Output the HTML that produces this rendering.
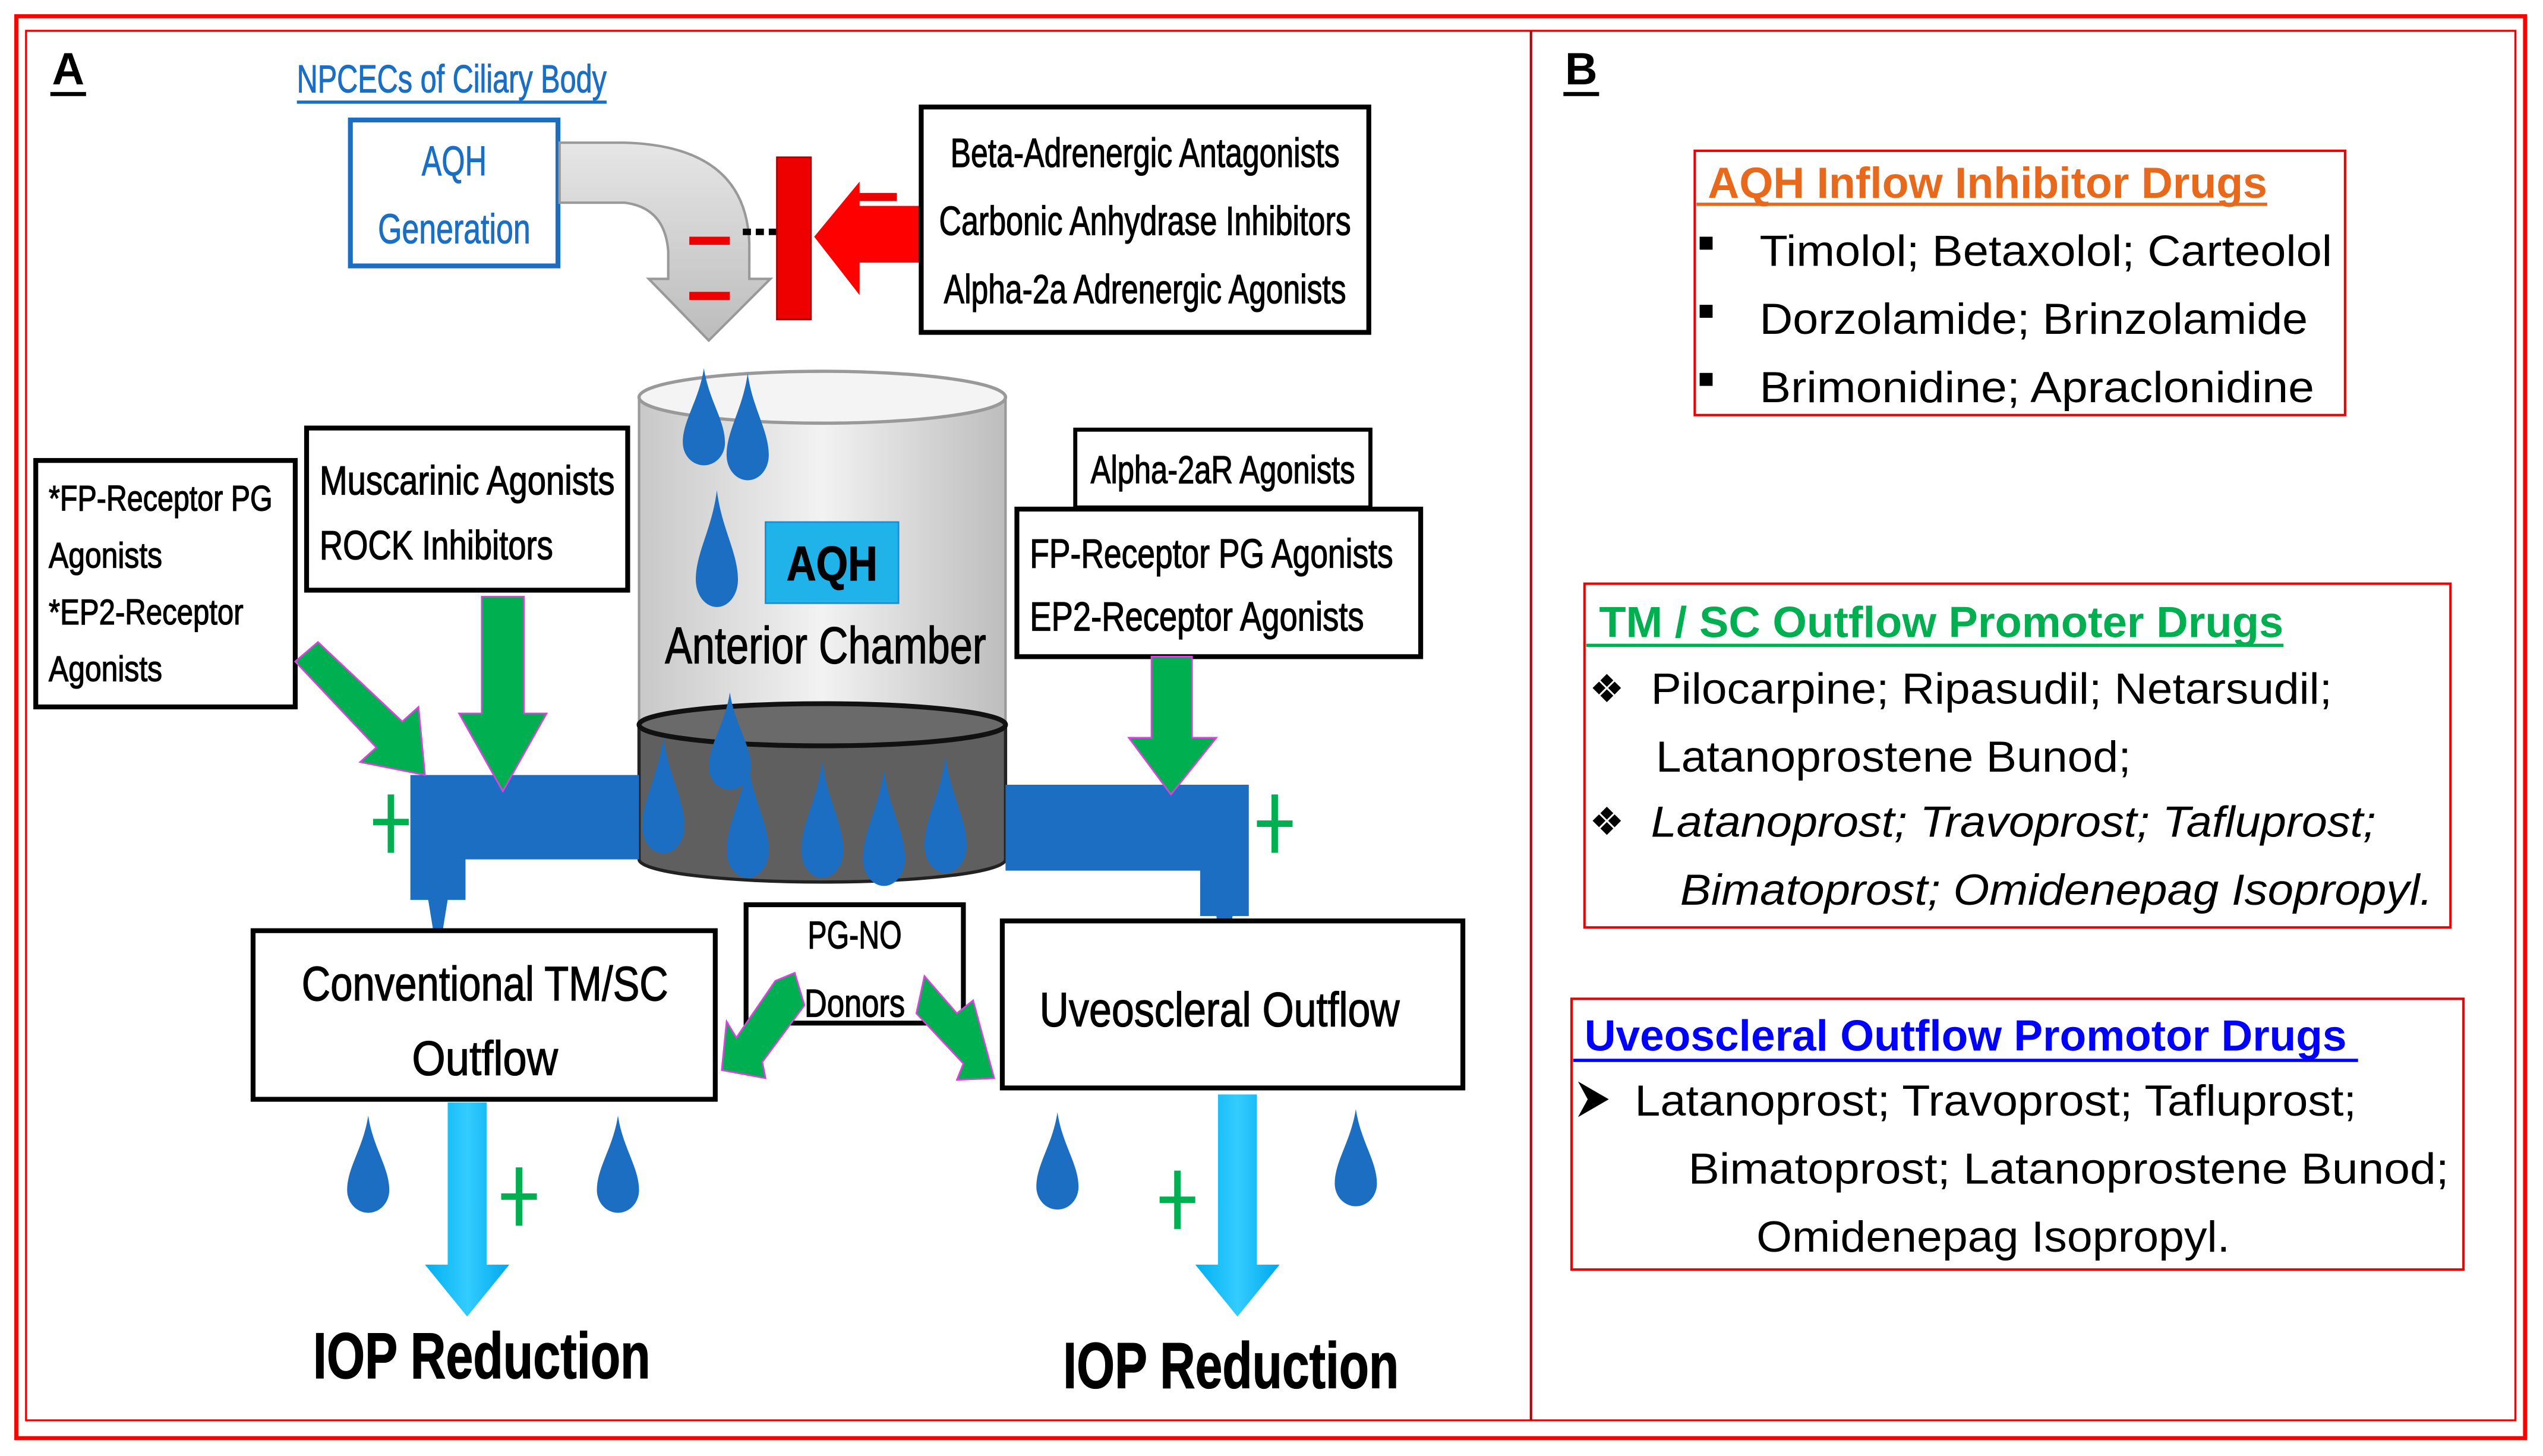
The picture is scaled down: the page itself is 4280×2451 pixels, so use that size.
<!DOCTYPE html>
<html><head><meta charset="utf-8"><style>html,body{margin:0;padding:0;background:#fff}svg{display:block}
.n{font-family:"Liberation Sans Narrow","Liberation Sans",sans-serif;stroke:#000;stroke-width:0.5}
.s{font-family:"Liberation Sans",sans-serif}</style></head><body>
<svg width="4280" height="2451" viewBox="0 0 1568 898" xmlns="http://www.w3.org/2000/svg">
<defs>
<path id="d" d="M0,-38 C3,-18 13,-6 13,8 A13,14 0 0 1 -13,8 C-13,-6 -3,-18 0,-38Z" fill="#1b6ec2"/>
<linearGradient id="cyl" x1="0" x2="1"><stop offset="0" stop-color="#c8c8c8"/><stop offset=".5" stop-color="#f2f2f2"/><stop offset="1" stop-color="#bdbdbd"/></linearGradient>
<linearGradient id="cy2" x1="0" x2="1"><stop offset="0" stop-color="#00b0f0"/><stop offset=".5" stop-color="#33ccff"/><stop offset="1" stop-color="#00a8ec"/></linearGradient>
<linearGradient id="gr" x1="0" y1="0" x2="0" y2="1"><stop offset="0" stop-color="#e6e6e6"/><stop offset="1" stop-color="#bcbcbc"/></linearGradient>
</defs>
<rect width="1568" height="898" fill="#fff"/>
<rect x="10" y="10" width="1547" height="877" fill="none" stroke="#f00" stroke-width="2.5"/>
<rect x="16" y="19" width="1535" height="857" fill="none" stroke="#e00" stroke-width="1.2"/>
<line x1="944" y1="19" x2="944" y2="876" stroke="#b00" stroke-width="1.5"/>

<text x="32" y="52" class="s" font-size="28" font-weight="bold" textLength="20" lengthAdjust="spacingAndGlyphs">A</text>
<line x1="31" y1="58" x2="53" y2="58" stroke="#000" stroke-width="2.5"/>
<text x="183" y="57" class="n" font-size="24" fill="#1a6fc4" style="stroke:#1a6fc4;stroke-width:0.4" textLength="191" lengthAdjust="spacingAndGlyphs">NPCECs of Ciliary Body</text>
<line x1="183" y1="63" x2="374" y2="63" stroke="#1a6fc4" stroke-width="2"/>
<rect x="216" y="74" width="128" height="90" fill="#fff" stroke="#1a6fc4" stroke-width="3"/>
<text x="280" y="108" class="n" font-size="26" fill="#1a6fc4" style="stroke:#1a6fc4;stroke-width:0.4" text-anchor="middle" textLength="40" lengthAdjust="spacingAndGlyphs">AQH</text>
<text x="280" y="150" class="n" font-size="26" fill="#1a6fc4" style="stroke:#1a6fc4;stroke-width:0.4" text-anchor="middle" textLength="94" lengthAdjust="spacingAndGlyphs">Generation</text>
<path d="M345,88 L385,88 Q460,90 462,150 L462,172 L475,172 L437,210 L400,172 L412,172 L412,155 Q410,128 385,125 L345,125 Z" fill="url(#gr)" stroke="#999" stroke-width="1.5"/>
<rect x="425" y="146" width="25" height="5" fill="#e00"/>
<rect x="425" y="180" width="25" height="5" fill="#e00"/>
<rect x="528" y="119" width="25" height="5" fill="#e00"/>
<line x1="458" y1="143" x2="480" y2="143" stroke="#000" stroke-width="4" stroke-dasharray="5,3"/>
<rect x="479" y="97" width="21" height="100" fill="#e00" stroke="#a00" stroke-width="1"/>
<path d="M567,127 L530,127 L530,112 L502,146 L530,182 L530,162 L567,162 Z" fill="#f00"/>
<rect x="568" y="66" width="276" height="139" fill="#fff" stroke="#000" stroke-width="3"/>
<text x="706" y="103" class="n" font-size="25" text-anchor="middle" textLength="240" lengthAdjust="spacingAndGlyphs">Beta-Adrenergic Antagonists</text>
<text x="706" y="145" class="n" font-size="25" text-anchor="middle" textLength="254" lengthAdjust="spacingAndGlyphs">Carbonic Anhydrase Inhibitors</text>
<text x="706" y="187" class="n" font-size="25" text-anchor="middle" textLength="248" lengthAdjust="spacingAndGlyphs">Alpha-2a Adrenergic Agonists</text>

<path d="M394,245 L394,450 L620,450 L620,245 Z" fill="url(#cyl)" stroke="#999" stroke-width="1.5"/>
<ellipse cx="507" cy="245" rx="113" ry="16" fill="#f4f4f4" stroke="#999" stroke-width="2"/>
<path d="M394,447 L394,530 A113,14 0 0 0 620,530 L620,447 Z" fill="#5f5f5f" stroke="#222" stroke-width="2"/>
<ellipse cx="507" cy="447" rx="113" ry="13" fill="#6a6a6a" stroke="#111" stroke-width="3"/>
<use href="#d" transform="translate(434,265)"/>
<use href="#d" transform="translate(461,272) scale(1,1.1)"/>
<use href="#d" transform="translate(442,348) scale(1,1.2)"/>
<use href="#d" transform="translate(450,465)"/>
<use href="#d" transform="translate(409,500) scale(1,1.2)"/>
<use href="#d" transform="translate(461,515) scale(1,1.2)"/>
<use href="#d" transform="translate(507,515) scale(1,1.2)"/>
<use href="#d" transform="translate(545,520) scale(1,1.2)"/>
<use href="#d" transform="translate(583,512) scale(1,1.2)"/>
<rect x="472" y="322" width="82" height="50" fill="#1fb3ea" stroke="#1a8ed0" stroke-width="1"/>
<text x="513" y="358" class="n" font-size="30" font-weight="bold" text-anchor="middle" textLength="56" lengthAdjust="spacingAndGlyphs">AQH</text>
<text x="509" y="409" class="n" font-size="32" text-anchor="middle" textLength="198" lengthAdjust="spacingAndGlyphs">Anterior Chamber</text>

<rect x="22" y="284" width="160" height="152" fill="#fff" stroke="#000" stroke-width="3"/>
<text x="30" y="315" class="n" font-size="22" textLength="138" lengthAdjust="spacingAndGlyphs">*FP-Receptor PG</text>
<text x="30" y="350" class="n" font-size="22" textLength="70" lengthAdjust="spacingAndGlyphs">Agonists</text>
<text x="30" y="385" class="n" font-size="22" textLength="120" lengthAdjust="spacingAndGlyphs">*EP2-Receptor</text>
<text x="30" y="420" class="n" font-size="22" textLength="70" lengthAdjust="spacingAndGlyphs">Agonists</text>
<rect x="189" y="264" width="198" height="100" fill="#fff" stroke="#000" stroke-width="3"/>
<text x="197" y="305" class="n" font-size="25" textLength="182" lengthAdjust="spacingAndGlyphs">Muscarinic Agonists</text>
<text x="197" y="345" class="n" font-size="25" textLength="144" lengthAdjust="spacingAndGlyphs">ROCK Inhibitors</text>
<rect x="663" y="265" width="182" height="48" fill="#fff" stroke="#000" stroke-width="2.5"/>
<text x="754" y="298" class="n" font-size="24" text-anchor="middle" textLength="163" lengthAdjust="spacingAndGlyphs">Alpha-2aR Agonists</text>
<rect x="627" y="314" width="249" height="91" fill="#fff" stroke="#000" stroke-width="3"/>
<text x="635" y="350" class="n" font-size="25" textLength="224" lengthAdjust="spacingAndGlyphs">FP-Receptor PG Agonists</text>
<text x="635" y="389" class="n" font-size="25" textLength="206" lengthAdjust="spacingAndGlyphs">EP2-Receptor Agonists</text>

<path d="M253,478 L394,478 L394,530 L287,530 L287,555 L276,555 L270,592 L264,555 L253,555 Z" fill="#1b6ec2"/>
<path d="M620,484 L770,484 L770,565 L760,565 L755,600 L750,565 L740,565 L740,537 L620,537 Z" fill="#1b6ec2"/>
<path d="M297,368 L323,368 L323,440 L337,440 L310,488 L283,440 L297,440 Z" fill="#00b050" stroke="#e040e0" stroke-width="1"/>
<path d="M710,405 L735,405 L735,455 L750,455 L722,490 L696,455 L710,455 Z" fill="#00b050" stroke="#e040e0" stroke-width="1"/>
<path d="M182,408 L196,396 L248,445 L258,436 L262,478 L222,470 L232,461 Z" fill="#00b050" stroke="#e040e0" stroke-width="1"/>
<g stroke="#00b050" stroke-width="4">
<line x1="241" y1="490" x2="241" y2="526"/><line x1="230" y1="507" x2="252" y2="507"/>
<line x1="786" y1="490" x2="786" y2="526"/><line x1="775" y1="508" x2="797" y2="508"/>
<line x1="320" y1="720" x2="320" y2="756"/><line x1="309" y1="738" x2="331" y2="738"/>
<line x1="726" y1="722" x2="726" y2="758"/><line x1="715" y1="740" x2="737" y2="740"/>
</g>
<rect x="156" y="574" width="285" height="104" fill="#fff" stroke="#000" stroke-width="3"/>
<text x="299" y="617" class="n" font-size="30" text-anchor="middle" textLength="226" lengthAdjust="spacingAndGlyphs">Conventional TM/SC</text>
<text x="299" y="663" class="n" font-size="30" text-anchor="middle" textLength="90" lengthAdjust="spacingAndGlyphs">Outflow</text>
<rect x="460" y="558" width="134" height="73" fill="#fff" stroke="#000" stroke-width="3"/>
<text x="527" y="585" class="n" font-size="24" text-anchor="middle" textLength="58" lengthAdjust="spacingAndGlyphs">PG-NO</text>
<text x="527" y="627" class="n" font-size="24" text-anchor="middle" textLength="62" lengthAdjust="spacingAndGlyphs">Donors</text>
<rect x="618" y="568" width="284" height="103" fill="#fff" stroke="#000" stroke-width="3"/>
<text x="752" y="633" class="n" font-size="30" text-anchor="middle" textLength="222" lengthAdjust="spacingAndGlyphs">Uveoscleral Outflow</text>
<path d="M490,600 L496,620 L470,655 L472,665 L445,660 L448,630 L454,640 L478,605 Z" fill="#00b050" stroke="#e040e0" stroke-width="1"/>
<path d="M570,602 L590,625 L600,617 L613,665 L590,666 L594,656 L565,625 Z" fill="#00b050" stroke="#e040e0" stroke-width="1"/>
<use href="#d" transform="translate(227,726)"/>
<use href="#d" transform="translate(381,726)"/>
<use href="#d" transform="translate(652,724)"/>
<use href="#d" transform="translate(836,722)"/>
<path d="M276,680 L300,680 L300,780 L314,780 L288,812 L262,780 L276,780 Z" fill="url(#cy2)"/>
<path d="M751,675 L775,675 L775,780 L789,780 L763,812 L737,780 L751,780 Z" fill="url(#cy2)"/>
<text x="297" y="850" class="n" font-size="40" font-weight="bold" text-anchor="middle" textLength="208" lengthAdjust="spacingAndGlyphs">IOP Reduction</text>
<text x="759" y="856" class="n" font-size="40" font-weight="bold" text-anchor="middle" textLength="207" lengthAdjust="spacingAndGlyphs">IOP Reduction</text>

<text x="965" y="52" class="s" font-size="28" font-weight="bold" textLength="20" lengthAdjust="spacingAndGlyphs">B</text>
<line x1="964" y1="58" x2="986" y2="58" stroke="#000" stroke-width="2.5"/>

<rect x="1045" y="93" width="401" height="163" fill="none" stroke="#e00" stroke-width="1.5"/>
<text x="1053" y="122" class="s" font-size="27" font-weight="bold" fill="#e8691c" textLength="345" lengthAdjust="spacingAndGlyphs">AQH Inflow Inhibitor Drugs</text>
<line x1="1046" y1="126" x2="1398" y2="126" stroke="#e8691c" stroke-width="2"/>
<g class="s" font-size="27">
<rect x="1048" y="146" width="8" height="8"/><rect x="1048" y="188" width="8" height="8"/><rect x="1048" y="230" width="8" height="8"/>
<text x="1085" y="164" textLength="353" lengthAdjust="spacingAndGlyphs">Timolol; Betaxolol; Carteolol</text>
<text x="1085" y="206" textLength="338" lengthAdjust="spacingAndGlyphs">Dorzolamide; Brinzolamide</text>
<text x="1085" y="248" textLength="342" lengthAdjust="spacingAndGlyphs">Brimonidine; Apraclonidine</text>
</g>

<rect x="977" y="360" width="534" height="212" fill="none" stroke="#e00" stroke-width="1.5"/>
<text x="986" y="393" class="s" font-size="27" font-weight="bold" fill="#00b050" textLength="422" lengthAdjust="spacingAndGlyphs">TM / SC Outflow Promoter Drugs</text>
<line x1="978" y1="398" x2="1408" y2="398" stroke="#00b050" stroke-width="2"/>
<g class="s" font-size="27">
<text x="980" y="433" font-size="24">❖</text>
<text x="1018" y="434" textLength="420" lengthAdjust="spacingAndGlyphs">Pilocarpine; Ripasudil; Netarsudil;</text>
<text x="1021" y="476" textLength="293" lengthAdjust="spacingAndGlyphs">Latanoprostene Bunod;</text>
<text x="980" y="515" font-size="24">❖</text>
<text x="1018" y="516" font-style="italic" textLength="447" lengthAdjust="spacingAndGlyphs">Latanoprost; Travoprost; Tafluprost;</text>
<text x="1036" y="558" font-style="italic" textLength="464" lengthAdjust="spacingAndGlyphs">Bimatoprost;  Omidenepag Isopropyl.</text>
</g>

<rect x="969" y="616" width="550" height="167" fill="none" stroke="#e00" stroke-width="1.5"/>
<text x="977" y="648" class="s" font-size="27" font-weight="bold" fill="#0000ff" textLength="470" lengthAdjust="spacingAndGlyphs">Uveoscleral Outflow Promotor Drugs</text>
<line x1="970" y1="654" x2="1454" y2="654" stroke="#0000ff" stroke-width="2"/>
<g class="s" font-size="27">
<path d="M973,667 L992,678 L973,689 L979,678 Z" fill="#000"/>
<text x="1008" y="688" textLength="445" lengthAdjust="spacingAndGlyphs">Latanoprost; Travoprost; Tafluprost;</text>
<text x="1041" y="730" textLength="469" lengthAdjust="spacingAndGlyphs">Bimatoprost;  Latanoprostene Bunod;</text>
<text x="1083" y="772" textLength="292" lengthAdjust="spacingAndGlyphs">Omidenepag Isopropyl.</text>
</g>
</svg>
</body></html>
